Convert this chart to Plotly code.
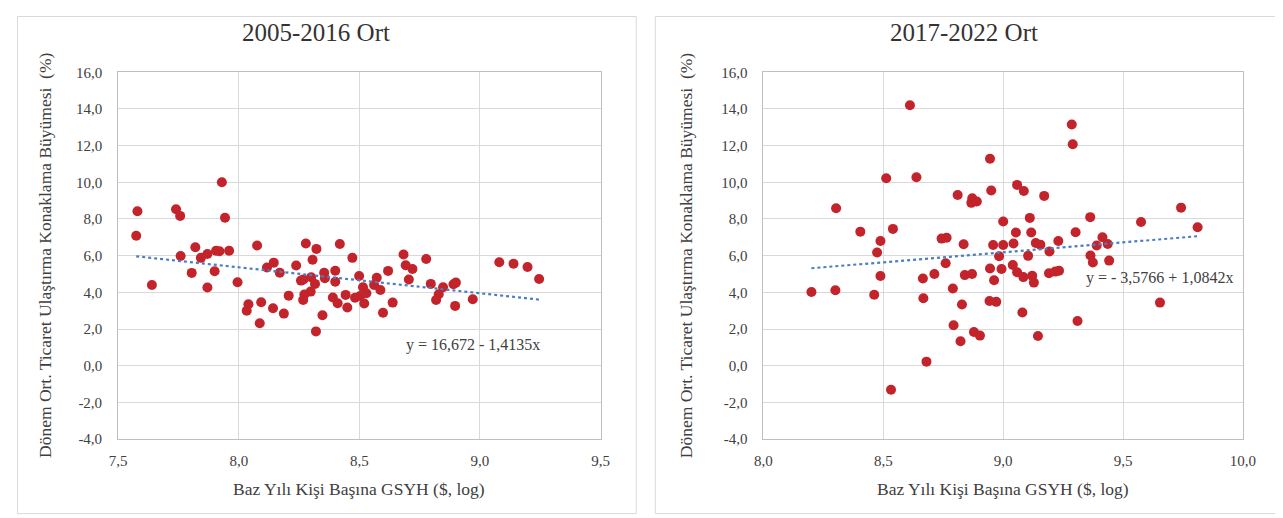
import plotly.graph_objects as go

# ---------------- data ----------------
x_0516 = [7.58, 7.575, 7.64, 7.74, 7.757, 7.759, 7.93, 7.943, 7.82, 7.843,
          7.87, 7.805, 7.90, 7.87, 7.906, 7.92, 7.96, 7.995, 8.076, 8.033,
          8.04, 8.093, 8.087, 8.142, 8.187, 8.117, 8.145, 8.17, 8.207, 8.238,
          8.278, 8.322, 8.306, 8.258, 8.268, 8.30, 8.316, 8.272, 8.267, 8.298,
          8.347, 8.32, 8.354, 8.357, 8.40, 8.40, 8.419, 8.39, 8.41, 8.443,
          8.45, 8.471, 8.499, 8.482, 8.515, 8.503, 8.52, 8.529, 8.572, 8.561,
          8.587, 8.619, 8.638, 8.598, 8.683, 8.692, 8.72, 8.705, 8.777, 8.796,
          8.847, 8.829, 8.818, 8.89, 8.90, 8.897, 8.97, 9.08, 9.139, 9.197, 9.245]
y_0516 = [8.42, 7.09, 4.40, 8.53, 8.17, 5.98, 10.0, 8.07, 6.46, 5.88,
          6.09, 5.06, 5.15, 4.26, 6.27, 6.24, 6.27, 4.55, 6.55, 3.0,
          3.35, 3.46, 2.31, 3.13, 2.84, 5.35, 5.62, 5.07, 3.82, 5.46,
          6.66, 6.37, 5.78, 4.64, 4.70, 4.82, 4.46, 3.88, 3.58, 4.04,
          2.75, 1.87, 5.07, 4.77, 5.18, 4.58, 6.64, 3.72, 3.40, 3.86,
          3.17, 5.88, 4.89, 3.70, 4.28, 3.80, 3.39, 3.95, 4.80, 4.40,
          4.13, 5.17, 3.44, 2.89, 6.06, 5.48, 5.27, 4.70, 5.82, 4.46,
          4.28, 3.90, 3.58, 4.44, 4.53, 3.26, 3.62, 5.64, 5.56, 5.38, 4.73]

x_1722 = [8.611, 8.945, 8.512, 8.638, 8.303, 8.81, 8.871, 8.867, 8.89, 8.95,
          9.0, 8.404, 8.54, 8.488, 8.474, 8.743, 8.764, 8.835, 8.958, 9.0,
          8.983, 8.76, 8.945, 9.286, 9.29, 9.058, 9.086, 9.171, 9.742, 9.111,
          9.363, 9.575, 9.811, 9.053, 9.117, 9.302, 9.043, 9.136, 9.155, 9.23,
          9.414, 9.39, 9.436, 9.104, 9.193, 9.364, 9.374, 9.442, 9.04, 8.20,
          8.30, 8.488, 8.462, 8.665, 8.713, 8.667, 8.79, 8.84, 8.87, 8.828,
          8.793, 8.878, 8.903, 8.822, 8.68, 8.532, 8.993, 8.962, 8.943, 8.971,
          9.058, 9.084, 9.121, 9.128, 9.191, 9.217, 9.233, 9.08, 9.145, 9.31, 9.654]
y_1722 = [14.2, 11.29, 10.22, 10.28, 8.59, 9.31, 9.13, 8.88, 8.95, 9.55,
          7.86, 7.31, 7.46, 6.80, 6.17, 6.93, 6.98, 6.62, 6.58, 6.58,
          5.97, 5.59, 5.30, 13.15, 12.08, 9.86, 9.53, 9.26, 8.62, 8.06,
          8.10, 7.84, 7.55, 7.26, 7.26, 7.28, 6.66, 6.69, 6.60, 6.80,
          7.00, 6.55, 6.64, 5.99, 6.23, 6.01, 5.63, 5.73, 5.49, 4.02,
          4.11, 4.89, 3.87, 4.75, 5.0, 3.68, 4.21, 4.94, 5.0, 3.34,
          2.2, 1.84, 1.64, 1.33, 0.22, -1.31, 5.27, 4.66, 3.53, 3.48,
          5.10, 4.83, 4.90, 4.53, 5.04, 5.13, 5.18, 2.90, 1.62, 2.44, 3.44]

# regression coefficients shown on the chart
a_0516, b_0516 = 16.672, -1.4135
a_1722, b_1722 = -3.5766, 1.0842
eq_0516 = "y = 16,672 - 1,4135x"
eq_1722 = "y = - 3,5766 + 1,0842x"

titles = ["2005-2016 Ort", "2017-2022 Ort"]
x_title = "Baz Yılı Kişi Başına GSYH ($, log)"
y_title = "Dönem Ort. Ticaret Ulaştırma Konaklama Büyümesi \u00a0(%)"

y_ticks = [-4, -2, 0, 2, 4, 6, 8, 10, 12, 14, 16]
x_ticks_l = [7.5, 8.0, 8.5, 9.0, 9.5]
x_ticks_r = [8.0, 8.5, 9.0, 9.5, 10.0]


def fmt(v):
    return f"{v:.1f}".replace(".", ",")


# ---------------- styling ----------------
W, H = 1283, 518
FONT = "Liberation Serif, Times New Roman, serif"
RED = "#C3232B"
BLUE = "#4A7EC4"
GRID = "#D9D9D9"
TXT = "#404040"


def px(xp):
    return xp / W


def py(yp):
    return 1 - yp / H


fig = go.Figure()

panels = [
    dict(x=x_0516, y=y_0516, a=a_0516, b=b_0516, xa="x", ya="y"),
    dict(x=x_1722, y=y_1722, a=a_1722, b=b_1722, xa="x2", ya="y2"),
]
for p in panels:
    fig.add_trace(go.Scatter(
        x=p["x"], y=p["y"], mode="markers", xaxis=p["xa"], yaxis=p["ya"],
        marker=dict(color=RED, size=10, line=dict(width=0)),
        showlegend=False, hoverinfo="x+y"))
    xs = [min(p["x"]), max(p["x"])]
    ys = [p["a"] + p["b"] * v for v in xs]
    fig.add_trace(go.Scatter(
        x=xs, y=ys, mode="lines", xaxis=p["xa"], yaxis=p["ya"],
        line=dict(color=BLUE, width=2.2, dash="dot"),
        showlegend=False, hoverinfo="skip"))

yax = dict(range=[-4, 16], tickvals=y_ticks, ticktext=[fmt(v) for v in y_ticks],
           showgrid=True, gridcolor=GRID, gridwidth=1, zeroline=False,
           showline=True, linecolor="#BFBFBF", linewidth=1, mirror=True,
           ticks="", ticklabelstandoff=12,
           tickfont=dict(family=FONT, size=15, color=TXT),
           domain=[py(436.5), py(58.1)], fixedrange=True)
xax = dict(showgrid=True, gridcolor=GRID, gridwidth=1, zeroline=False,
           showline=True, linecolor="#BFBFBF", linewidth=1, mirror=True,
           ticks="", ticklabelstandoff=8,
           tickfont=dict(family=FONT, size=15, color=TXT), fixedrange=True)

fig.update_layout(
    width=W, height=H, margin=dict(l=0, r=0, t=0, b=0),
    paper_bgcolor="white", plot_bgcolor="white",
    font=dict(family=FONT, color=TXT),
    xaxis=dict(xax, range=[7.5, 9.5], tickvals=x_ticks_l,
               ticktext=[fmt(v) for v in x_ticks_l],
               domain=[px(102.9), px(593.8)], anchor="y"),
    yaxis=dict(yax, anchor="x"),
    xaxis2=dict(xax, range=[8.0, 10.0], tickvals=x_ticks_r,
                ticktext=[fmt(v) for v in x_ticks_r],
                domain=[px(759.5), px(1247.3)], anchor="y2"),
    yaxis2=dict(yax, anchor="x2"),
)

# panel borders
for x0, x1 in [(0.5, 630), (649.4, 1282.5)]:
    fig.add_shape(type="rect", xref="paper", yref="paper",
                  x0=px(x0), x1=px(x1), y0=py(513.5), y1=py(0.5),
                  line=dict(color=GRID, width=1), fillcolor="rgba(0,0,0,0)",
                  layer="below")

annos = []
# titles
for cx, t in [(304, titles[0]), (963.4, titles[1])]:
    annos.append(dict(x=px(cx), y=py(17.5), xref="paper", yref="paper",
                      text=t, showarrow=False, xanchor="center", yanchor="middle",
                      font=dict(family=FONT, size=25, color="#333333")))
# x titles
for cx in [348.4, 1003.4]:
    annos.append(dict(x=px(cx), y=py(488.1), xref="paper", yref="paper",
                      text=x_title, showarrow=False, xanchor="center", yanchor="middle",
                      font=dict(family=FONT, size=17.5, color=TXT)))
# y titles
for cx in [28.5, 680.9]:
    annos.append(dict(x=px(cx), y=py(246.6), xref="paper", yref="paper",
                      text=y_title, showarrow=False, textangle=-90,
                      xanchor="center", yanchor="middle",
                      font=dict(family=FONT, size=17.5, color=TXT)))
# equations
annos.append(dict(x=8.969, y=1.13, xref="x", yref="y", text=eq_0516,
                  showarrow=False, xanchor="center", yanchor="middle",
                  font=dict(family=FONT, size=16, color=TXT)))
annos.append(dict(x=9.654, y=4.77, xref="x2", yref="y2", text=eq_1722,
                  showarrow=False, xanchor="center", yanchor="middle",
                  font=dict(family=FONT, size=16, color=TXT)))
fig.update_layout(annotations=annos)

fig.write_html("out.html")
